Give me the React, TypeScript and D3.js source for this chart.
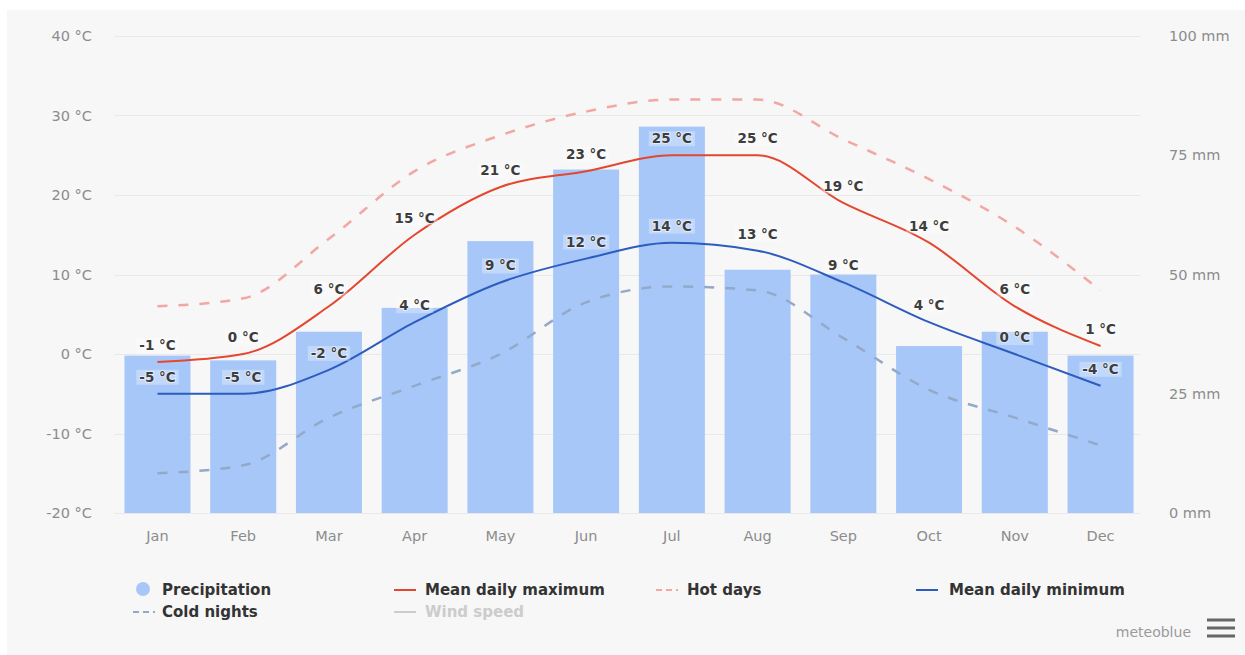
import React, { useEffect, useRef } from 'react';
import * as d3 from 'd3';

const months = ['Jan', 'Feb', 'Mar', 'Apr', 'May', 'Jun', 'Jul', 'Aug', 'Sep', 'Oct', 'Nov', 'Dec'];
const precipitation = [33, 32, 38, 43, 57, 72, 81, 51, 50, 35, 38, 33];
const meanMax = [-1, 0, 6, 15, 21, 23, 25, 25, 19, 14, 6, 1];
const meanMin = [-5, -5, -2, 4, 9, 12, 14, 13, 9, 4, 0, -4];
const hotDays = [6, 7, 14.5, 23, 27.5, 30.5, 32, 32, 27, 22, 16, 8];
const coldNights = [-15, -14, -8, -4, 0, 6.5, 8.5, 8, 2, -4.5, -8, -11.5];
const tempTicks = [-20, -10, 0, 10, 20, 30, 40];
const precipTicks = [0, 25, 50, 75, 100];

const FONT = '"DejaVu Sans", Verdana, sans-serif';
const C_BAR = '#a7c7f9';
const C_MAX = '#e4472f';
const C_MIN = '#2d5cbf';
const C_HOT = '#f2a7a4';
const C_COLD = '#93a9c9';

export default function App() {
  const ref = useRef<SVGSVGElement>(null);

  useEffect(() => {
    const W = 1245;
    const H = 655;
    const svg = d3.select(ref.current);
    svg.selectAll('*').remove();

    svg.append('rect').attr('width', W).attr('height', H).attr('fill', '#ffffff');
    svg.append('rect').attr('x', 7).attr('y', 10).attr('width', W - 7).attr('height', H - 10).attr('fill', '#f7f7f7');

    const x = d3.scaleBand<string>().domain(months).range([114.6, 1143.4]);
    const cx = (m: string) => (x(m) as number) + x.bandwidth() / 2;
    const yT = d3.scaleLinear().domain([-20, 40]).range([513, 36]);
    const yP = d3.scaleLinear().domain([0, 100]).range([513, 36]);

    // grid
    svg.append('g').selectAll('line').data(tempTicks).join('line')
      .attr('x1', 114).attr('x2', 1140)
      .attr('y1', (d) => Math.round(yT(d)) + 0.5).attr('y2', (d) => Math.round(yT(d)) + 0.5)
      .attr('stroke', '#e9e9e9').attr('stroke-width', 1);

    // left axis labels
    svg.append('g').selectAll('text').data(tempTicks).join('text')
      .attr('x', 92).attr('y', (d) => yT(d) + 5)
      .attr('text-anchor', 'end')
      .attr('font-family', FONT).attr('font-size', 14.5).attr('fill', '#8c8c8c')
      .text((d) => `${d} °C`);

    // right axis labels
    svg.append('g').selectAll('text').data(precipTicks).join('text')
      .attr('x', 1169).attr('y', (d) => yP(d) + 5)
      .attr('text-anchor', 'start')
      .attr('font-family', FONT).attr('font-size', 14.5).attr('fill', '#8c8c8c')
      .text((d) => `${d} mm`);

    // month labels
    svg.append('g').selectAll('text').data(months).join('text')
      .attr('x', (d) => cx(d)).attr('y', 541)
      .attr('text-anchor', 'middle')
      .attr('font-family', FONT).attr('font-size', 14.5).attr('fill', '#8c8c8c')
      .text((d) => d);

    // bars
    const bw = x.bandwidth() * 0.77;
    svg.append('g').selectAll('rect').data(precipitation).join('rect')
      .attr('x', (_d, i) => cx(months[i]) - bw / 2)
      .attr('y', (d) => yP(d))
      .attr('width', bw)
      .attr('height', (d) => yP(0) - yP(d))
      .attr('fill', C_BAR);

    const line = d3.line<number>()
      .x((_d, i) => cx(months[i]))
      .y((d) => yT(d))
      .curve(d3.curveMonotoneX);

    svg.append('path').attr('d', line(coldNights) as string)
      .attr('fill', 'none').attr('stroke', C_COLD).attr('stroke-width', 2.5)
      .attr('stroke-dasharray', '10,11');
    svg.append('path').attr('d', line(hotDays) as string)
      .attr('fill', 'none').attr('stroke', C_HOT).attr('stroke-width', 2.5)
      .attr('stroke-dasharray', '10,11');
    svg.append('path').attr('d', line(meanMax) as string)
      .attr('fill', 'none').attr('stroke', C_MAX).attr('stroke-width', 2);
    svg.append('path').attr('d', line(meanMin) as string)
      .attr('fill', 'none').attr('stroke', C_MIN).attr('stroke-width', 2);

    // data labels
    const addLabels = (vals: number[]) => {
      const g = svg.append('g');
      vals.forEach((v, i) => {
        const lx = cx(months[i]);
        const ly = yT(v) - 12;
        const bg = g.append('rect');
        const t = g.append('text')
          .attr('x', lx).attr('y', ly)
          .attr('text-anchor', 'middle')
          .attr('font-family', FONT).attr('font-size', 13.5).attr('font-weight', 700)
          .attr('fill', '#3d3d3d')
          .attr('stroke', 'rgba(255,255,255,0.5)').attr('stroke-width', 2)
          .attr('paint-order', 'stroke')
          .text(`${v} °C`);
        const bb = (t.node() as SVGTextElement).getBBox();
        bg.attr('x', bb.x - 3).attr('y', bb.y + 1).attr('width', bb.width + 6).attr('height', bb.height - 1)
          .attr('fill', 'rgba(255,255,255,0.3)');
      });
    };
    addLabels(meanMax);
    addLabels(meanMin);

    // legend
    const lg = svg.append('g').attr('font-family', FONT).attr('font-size', 15).attr('font-weight', 700);
    const row1 = 590;
    const row2 = 612;
    const addLine = (x0: number, y: number, color: string, dash?: string) => {
      const l = lg.append('line').attr('x1', x0).attr('x2', x0 + 22).attr('y1', y).attr('y2', y)
        .attr('stroke', color).attr('stroke-width', 2);
      if (dash) l.attr('stroke-dasharray', dash);
    };
    const addText = (x0: number, y: number, s: string, color = '#333333') => {
      lg.append('text').attr('x', x0).attr('y', y + 5).attr('fill', color).text(s);
    };
    lg.append('circle').attr('cx', 143).attr('cy', row1 - 1).attr('r', 7).attr('fill', C_BAR);
    addText(162, row1, 'Precipitation');
    addLine(394, row1, C_MAX);
    addText(425, row1, 'Mean daily maximum');
    addLine(656, row1, C_HOT, '6,4');
    addText(687, row1, 'Hot days');
    addLine(916, row1, C_MIN);
    addText(949, row1, 'Mean daily minimum');
    addLine(133, row2, C_COLD, '6,4');
    addText(162, row2, 'Cold nights');
    addLine(394, row2, '#cccccc');
    addText(425, row2, 'Wind speed', '#cccccc');

    // credits
    svg.append('text').attr('x', 1191).attr('y', 637).attr('text-anchor', 'end')
      .attr('font-family', FONT).attr('font-size', 14).attr('fill', '#9a9a9a').text('meteoblue');
    [620, 628, 636].forEach((yy) => {
      svg.append('rect').attr('x', 1207).attr('y', yy - 1.5).attr('width', 28).attr('height', 3).attr('fill', '#666666');
    });
  }, []);

  return (
    <svg
      ref={ref}
      width={1245}
      height={655}
      style={{ position: 'absolute', left: 0, top: 0, display: 'block' }}
    />
  );
}
